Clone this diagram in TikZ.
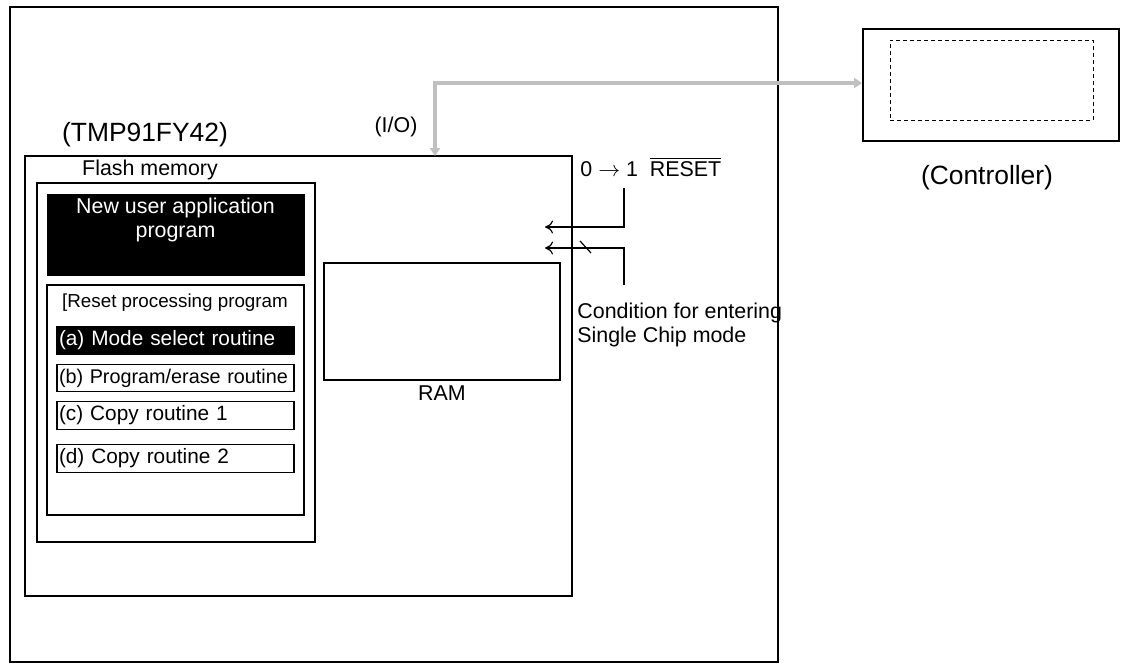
\documentclass[tikz,border=0pt]{standalone}
\usepackage{fontspec}
\setmainfont{Liberation Sans}
\usetikzlibrary{arrows.meta}
\definecolor{busgray}{RGB}{192,192,192}
\newcommand{\txtfont}{\fontsize{10.7}{12}\selectfont}
\newcommand{\lblfont}{\fontsize{13.2}{15}\selectfont}
\newcommand{\rtfont}{\fontsize{10.4}{12}\selectfont}

\begin{document}
\begin{tikzpicture}[x=0.5pt,y=-0.5pt,
		box/.style={draw, inner sep=0pt},
		routine/.style={draw, line width=0.6pt, minimum height=13.75pt, inner sep=1pt,
			text width=116.5pt, align=left, font=\rtfont},
		txt/.style={inner sep=0pt, font=\txtfont},
		sig/.style={-{To[length=4pt,width=6.5pt]}, line width=0.6pt}]
	\useasboundingbox (0,0) rectangle (1128,664);
	
	% 电路板与芯片
	\node[box, line width=1pt, minimum width=384pt, minimum height=327.5pt] (board) at (394,334.5) {};
	\node[box, line width=0.6pt, minimum width=273.5pt, minimum height=220pt] (chip) at (298.5,376) {};
	\node[font=\lblfont, inner sep=0pt] (chipname) at (145,135) {(TMP91FY42)};
	\node[txt] (io) at (396,127) {(I/O)};
	
	% 闪存
	\node[box, line width=0.8pt, minimum width=139pt, minimum height=179.5pt] (flash) at (176,362.5) {};
	\node[txt] (flashname) at (150,170) {Flash memory};
	\node[box, fill=black, minimum width=128.5pt, minimum height=40.5pt] (newapp) at (175.5,234.5) {};
	\node[txt, text=white, align=center] (newtxt) at (175.5,220) {New user application\\program};
	\node[box, line width=0.6pt, minimum width=128.5pt, minimum height=115pt] (reset) at (175.5,400) {};
	\node[inner sep=0pt, font=\fontsize{9.4}{11}\selectfont] (resettxt) at (175,303) {[Reset processing program};
	
	% 各子程序
	\node[routine, fill=black, text=white] (ra) at (175.5,340.5) {\mbox{(a) Mode select routine}};
	\node[routine, font=\fontsize{9.9}{12}\selectfont] (rb) at (175.5,378) {\mbox{(b) Program/erase routine}};
	\node[routine] (rc) at (175.5,415.5) {\mbox{(c) Copy routine 1}};
	\node[routine] (rd) at (175.5,458.5) {\mbox{(d) Copy routine 2}};
	
	% RAM
	\node[box, line width=0.7pt, minimum width=118pt, minimum height=58.5pt] (ram) at (442,321.5) {};
	\node[txt] (ramname) at (442,393) {RAM};
	
	% 控制器
	\node[box, line width=1pt, minimum width=128pt, minimum height=56pt] (ctrl) at (991,85) {};
	\node[box, line width=0.5pt, dash pattern=on 2pt off 1.5pt, minimum width=101.5pt, minimum height=40pt] (ctrlin) at (991.5,80) {};
	\node[font=\lblfont, inner sep=0pt] (ctrlname) at (987,178) {(Controller)};
	
	% 信号
	\node[txt, anchor=base west] (rst) at (580,176) {0 $\rightarrow$ 1 \ $\overline{\mbox{RESET}}$};
	\node[txt, anchor=west, align=left] (cond) at (577,325) {Condition for entering\\Single Chip mode};
	\coordinate (rsttop) at (624,188);
	\coordinate (rstin) at (545,227);
	\coordinate (condtop) at (624,285);
	\coordinate (condin) at (545,248);
	\draw[sig] (rsttop) |- (rstin);
	\draw[sig] (condtop) |- (condin);
	\draw[line width=0.6pt] (580,241) -- (591,253);
	
	% 总线
	\coordinate (iopin) at (435,156);
	\draw[busgray, line width=2pt, {Triangle[length=4pt,width=5pt]}-{Triangle[length=4pt,width=5pt]}]
	([yshift=1pt]ctrl.west) -| (iopin);
\end{tikzpicture}
\end{document}
